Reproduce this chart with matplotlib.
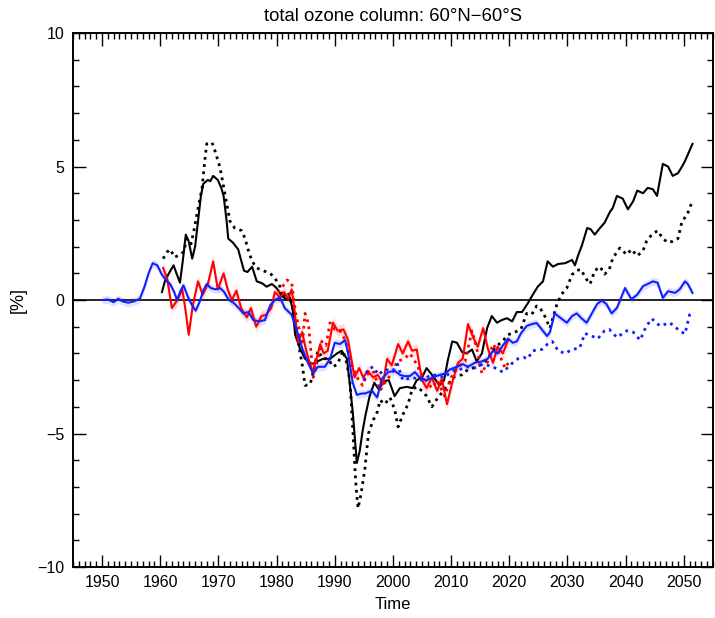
import numpy as np
import matplotlib
matplotlib.use("Agg")
import matplotlib.pyplot as plt
from matplotlib.ticker import MultipleLocator

plt.rcParams['font.family'] = ['Liberation Sans', 'DejaVu Sans']

# ---- series: (year, anomaly %) ----
black_solid_years = [1960.3, 1960.8, 1961.5, 1962.3, 1962.8, 1963.4, 1963.9, 1964.4, 1964.9, 1965.5,
                     1966.0, 1966.5, 1967.0, 1967.4, 1968.2, 1968.6, 1969.1, 1969.9, 1970.5, 1970.9,
                     1971.4, 1971.7, 1972.5, 1973.4, 1973.9, 1974.4, 1975.0, 1975.8, 1976.6, 1977.5,
                     1978.3, 1979.2, 1980.0, 1980.9, 1981.6, 1982.3, 1982.8, 1983.2, 1984.0, 1984.9,
                     1986.1, 1987.0, 1988.0, 1989.2, 1990.4, 1991.2, 1992.1, 1992.6, 1993.1, 1993.8,
                     1994.3, 1994.8, 1995.3, 1996.0, 1996.8, 1997.6, 1998.4, 1999.3, 2000.3, 2001.2,
                     2002.4, 2003.4, 2004.1, 2005.0, 2005.8, 2006.9, 2008.0, 2008.8, 2009.4, 2010.2,
                     2011.0, 2011.9, 2012.7, 2013.6, 2014.4, 2015.3, 2016.2, 2017.0, 2017.9, 2018.7,
                     2019.6, 2020.5, 2021.3, 2022.2, 2023.2, 2024.1, 2024.9, 2025.8, 2026.6, 2027.5,
                     2028.4, 2029.6, 2030.8, 2031.3, 2031.8, 2032.5, 2033.4, 2034.0, 2034.7, 2035.6,
                     2036.4, 2037.3, 2037.8, 2038.5, 2039.5, 2040.4, 2041.3, 2042.0, 2043.0, 2043.8,
                     2044.7, 2045.4, 2046.4, 2047.3, 2048.1, 2049.0, 2049.7, 2050.2, 2050.7, 2051.5]
black_solid_vals = [0.3, 0.7, 1.0, 1.3, 1.0, 0.65, 1.5, 2.45, 2.2, 1.55,
                    2.0, 2.95, 3.9, 4.35, 4.5, 4.45, 4.65, 4.5, 4.2, 3.9,
                    3.0, 2.3, 2.15, 1.9, 1.5, 1.1, 1.05, 1.25, 0.7, 0.63,
                    0.5, 0.6, 0.45, 0.15, 0.05, 0.1, -0.4, -1.3, -1.8, -2.2,
                    -2.4, -2.3, -2.2, -2.2, -2.0, -1.9, -2.2, -3.15, -4.2, -6.1,
                    -5.65, -4.9, -4.3, -3.6, -3.1, -3.35, -3.05, -3.0, -3.6, -3.3,
                    -3.25, -3.3, -3.0, -2.9, -2.55, -2.85, -3.2, -3.0, -2.3, -1.55,
                    -1.6, -1.95, -2.0, -1.85, -2.3, -2.0, -1.05, -0.6, -0.85, -0.75,
                    -0.68, -0.8, -0.45, -0.45, -0.12, 0.22, 0.5, 0.7, 1.45, 1.25,
                    1.35, 1.38, 1.5, 1.3, 1.65, 2.05, 2.7, 2.65, 2.45, 2.7,
                    2.9, 3.3, 3.45, 3.9, 3.8, 3.4, 3.7, 4.1, 4.0, 4.2,
                    4.15, 3.9, 5.1, 5.0, 4.65, 4.75, 5.0, 5.2, 5.45, 5.85]

black_dot_years = [1960.5, 1961.2, 1961.7, 1962.5, 1963.3, 1964.0, 1964.6, 1965.3, 1965.8, 1966.3,
                   1967.2, 1967.7, 1968.0, 1968.9, 1969.4, 1970.3, 1971.1, 1972.0, 1972.8, 1974.0,
                   1974.6, 1975.1, 1975.8, 1976.6, 1977.7, 1978.9, 1979.7, 1980.6, 1981.0, 1981.5,
                   1982.0, 1982.8, 1983.7, 1984.4, 1984.9, 1985.8, 1986.3, 1987.1, 1988.0, 1988.9,
                   1989.7, 1990.5, 1991.4, 1992.0, 1992.6, 1993.1, 1993.6, 1994.0, 1994.5, 1995.2,
                   1995.8, 1996.6, 1997.3, 1997.8, 1998.6, 1999.5, 2000.3, 2000.9, 2001.7, 2002.6,
                   2003.3, 2004.1, 2005.0, 2005.8, 2006.7, 2007.6, 2008.5, 2009.5, 2010.7, 2011.9,
                   2012.9, 2014.4, 2015.3, 2016.3, 2017.2, 2018.0, 2019.0, 2019.8, 2021.0, 2022.0,
                   2023.0, 2023.9, 2024.7, 2025.3, 2026.1, 2027.0, 2027.5, 2028.2, 2029.0, 2029.9,
                   2030.8, 2031.5, 2032.3, 2033.2, 2033.9, 2034.7, 2035.6, 2036.4, 2037.2, 2037.8,
                   2039.0, 2040.2, 2041.0, 2042.0, 2043.0, 2043.6, 2044.5, 2045.5, 2046.4, 2047.3,
                   2048.1, 2049.0, 2049.7, 2050.6, 2051.0, 2051.5]
black_dot_vals = [1.55, 1.8, 1.9, 1.6, 1.7, 1.8, 2.3, 2.1, 2.6, 3.2,
                  4.2, 5.3, 5.85, 5.9, 5.6, 4.95, 4.0, 2.95, 2.7, 2.6,
                  2.3, 1.9, 1.45, 1.2, 1.1, 1.0, 0.83, 0.5, 0.1, 0.2,
                  0.3, -0.3, -1.55, -2.4, -3.2, -3.15, -2.7, -1.9, -2.2, -2.2,
                  -2.5, -2.4, -1.9, -2.3, -3.0, -4.8, -6.8, -7.8, -7.3, -6.3,
                  -5.0, -4.5, -4.2, -3.75, -3.9, -3.65, -4.1, -4.75, -4.3, -3.9,
                  -3.35, -3.25, -3.4, -3.6, -4.0, -3.7, -3.45, -3.15, -2.85, -2.8,
                  -2.6, -2.5, -2.4, -2.2, -1.9, -1.7, -1.5, -1.3, -1.2, -1.1,
                  -0.5, -0.53, -0.22, -0.3, -0.6, -1.05, -0.67, -0.15, 0.22, 0.45,
                  0.95, 1.1, 1.15, 0.8, 0.6, 1.1, 1.25, 0.97, 1.15, 1.57,
                  1.95, 1.7, 1.9, 1.65, 1.85, 2.2, 2.45, 2.6, 2.3, 2.15,
                  2.2, 2.3, 2.95, 3.2, 3.45, 3.7]

red_solid_years = [1960.5, 1961.2, 1962.0, 1962.9, 1963.8, 1964.3, 1964.9, 1965.6, 1966.5, 1967.3,
                   1968.2, 1969.1, 1969.9, 1970.9, 1971.6, 1972.3, 1973.1, 1973.9, 1974.9, 1975.6,
                   1976.5, 1977.4, 1978.2, 1979.1, 1979.7, 1980.6, 1981.3, 1982.0, 1982.6, 1983.1,
                   1983.7, 1984.4, 1985.0, 1985.6, 1986.2, 1987.0, 1987.5, 1988.1, 1988.8, 1989.7,
                   1990.5, 1991.5, 1992.3, 1993.4, 1994.2, 1994.9, 1995.7, 1996.6, 1997.4, 1998.3,
                   1999.0, 1999.8, 2000.9, 2001.7, 2002.6, 2003.3, 2004.1, 2005.0, 2005.8, 2006.7,
                   2007.6, 2008.4, 2009.3, 2010.3, 2011.2, 2012.0, 2012.9, 2013.8, 2014.6, 2015.5,
                   2016.3, 2017.2, 2018.0, 2018.9, 2019.8]
red_solid_vals = [1.2, 0.8, -0.3, -0.02, 0.4, -0.3, -1.3, -0.2, 0.7, 0.2,
                  0.6, 1.45, 0.4, 1.0, 0.4, 0.0, 0.35, -0.3, -0.65, -0.3,
                  -1.0, -0.6, -0.55, -0.3, 0.3, 0.1, 0.3, 0.05, 0.4, -0.4,
                  -1.6, -1.2, -1.8, -2.3, -2.7, -2.1, -1.65, -2.0, -1.9, -0.85,
                  -1.15, -1.1, -1.5, -2.9, -2.55, -2.9, -2.65, -2.9, -2.8, -3.15,
                  -2.2, -2.45, -1.65, -2.0, -1.55, -1.9, -1.85, -3.0, -3.3, -2.9,
                  -3.4, -2.95, -3.9, -3.0, -2.35, -2.2, -0.9, -1.4, -1.75, -1.05,
                  -1.8, -2.35, -1.75, -2.0, -1.5]

red_dot_years = [1980.2, 1981.0, 1981.8, 1982.6, 1983.3, 1983.9, 1984.4, 1984.9, 1985.5, 1986.3,
                 1987.0, 1987.8, 1988.5, 1989.2, 1990.0, 1990.9, 1991.8, 1992.4, 1993.1, 1994.0,
                 1994.8, 1995.5, 1996.6, 1997.8, 1998.9, 2000.0, 2000.7, 2002.0, 2002.9, 2003.8,
                 2004.6, 2005.6, 2006.7, 2007.6, 2008.9, 2010.0, 2011.2, 2012.4, 2013.6, 2014.4,
                 2015.3, 2016.3, 2017.2, 2018.0, 2019.3, 2020.0]
red_dot_vals = [0.3, 0.5, 0.75, 0.65, -0.5, -1.1, -1.7, -0.5, -0.9, -2.9,
                -2.3, -1.55, -1.7, -0.85, -1.1, -1.15, -1.5, -2.0, -2.55, -2.95,
                -3.2, -2.8, -2.65, -3.4, -3.0, -2.7, -2.3, -2.2, -2.0, -2.3,
                -2.65, -3.0, -3.3, -3.0, -3.6, -2.9, -2.5, -2.3, -1.15, -1.8,
                -2.75, -2.3, -1.65, -1.9, -2.55, -2.3]

blue_solid_years = [1950.0, 1951.0, 1952.0, 1952.8, 1953.5, 1954.5, 1955.5, 1956.5, 1957.3, 1958.0,
                    1958.7, 1959.5, 1960.3, 1961.0, 1961.7, 1962.4, 1962.9, 1963.5, 1964.0, 1964.8,
                    1965.5, 1966.1, 1966.8, 1967.5, 1968.0, 1968.7, 1969.5, 1970.3, 1971.0, 1971.8,
                    1972.6, 1973.5, 1974.3, 1975.2, 1976.0, 1977.0, 1978.0, 1978.9, 1979.7, 1980.6,
                    1981.4, 1982.6, 1983.5, 1984.4, 1985.4, 1986.3, 1987.1, 1988.3, 1989.2, 1990.0,
                    1990.9, 1991.8, 1992.3, 1993.1, 1993.8, 1994.7, 1995.2, 1996.4, 1997.3, 1998.1,
                    1999.2, 2000.3, 2001.2, 2002.0, 2002.9, 2003.8, 2004.6, 2005.8, 2006.9, 2008.1,
                    2009.0, 2009.8, 2011.0, 2012.0, 2012.9, 2014.1, 2015.3, 2016.3, 2017.2, 2018.0,
                    2018.9, 2019.8, 2020.6, 2021.3, 2022.0, 2023.0, 2023.9, 2024.7, 2025.6, 2026.5,
                    2027.0, 2027.8, 2029.0, 2029.9, 2030.8, 2031.6, 2032.5, 2033.3, 2034.2, 2035.1,
                    2035.9, 2036.7, 2037.6, 2038.5, 2039.9, 2041.0, 2042.0, 2043.0, 2043.8, 2044.7,
                    2045.5, 2046.4, 2047.3, 2048.5, 2049.3, 2050.2, 2050.7, 2051.5]
blue_solid_vals = [0.0, 0.02, -0.08, 0.05, -0.05, -0.1, -0.05, 0.05, 0.5, 1.0,
                   1.38, 1.3, 0.95, 0.75, 0.6, 0.3, 0.0, 0.35, 0.55, 0.1,
                   -0.2, -0.4, -0.05, 0.4, 0.6, 0.45, 0.4, 0.45, 0.3, 0.0,
                   -0.1, -0.3, -0.5, -0.45, -0.75, -0.8, -0.75, -0.2, 0.0, 0.1,
                   -0.3, -0.55, -1.15, -1.8, -2.35, -2.75, -2.5, -2.5, -2.2, -1.6,
                   -1.65, -1.5, -2.0, -3.1, -3.55, -3.5, -3.5, -3.4, -3.65, -2.95,
                   -2.7, -2.65, -2.8, -2.85, -2.85, -2.7, -2.9, -3.0, -2.9, -2.8,
                   -2.75, -2.6, -2.5, -2.4, -2.5, -2.35, -2.3, -2.2, -1.9, -2.0,
                   -1.7, -1.45, -1.6, -1.55, -1.25, -0.97, -0.9, -0.86, -1.1, -1.35,
                   -1.2, -0.5, -0.7, -0.85, -0.6, -0.5, -0.7, -0.85, -0.5, -0.15,
                   -0.02, -0.15, -0.5, -0.3, 0.45, 0.03, 0.2, 0.52, 0.6, 0.7,
                   0.65, 0.08, 0.33, 0.27, 0.4, 0.7, 0.6, 0.27]

blue_dot_years = [1995.0, 1995.7, 1996.6, 1997.5, 1998.6, 2000.0, 2000.8, 2001.7, 2003.3, 2005.0,
                  2006.2, 2007.5, 2008.8, 2010.3, 2011.5, 2012.7, 2014.0, 2015.5, 2017.2, 2018.9,
                  2020.6, 2021.5, 2022.5, 2023.2, 2024.0, 2025.6, 2026.6, 2027.4, 2028.4, 2029.6,
                  2030.8, 2032.1, 2033.0, 2034.2, 2035.2, 2036.4, 2037.2, 2038.5, 2040.2, 2041.3,
                  2042.5, 2043.5, 2044.5, 2045.9, 2047.6, 2049.3, 2050.2, 2051.0, 2051.5]
blue_dot_vals = [-3.0, -2.6, -2.5, -2.8, -2.6, -2.65, -2.4, -3.0, -2.9, -3.0,
                 -2.85, -2.8, -2.9, -2.65, -2.6, -2.5, -2.55, -2.4, -2.5, -2.7,
                 -2.35, -2.2, -2.15, -2.2, -1.9, -1.85, -1.65, -1.55, -1.9, -2.0,
                 -1.85, -1.8, -1.25, -1.35, -1.45, -1.15, -1.1, -1.4, -1.15, -1.2,
                 -1.5, -1.0, -0.7, -0.97, -0.85, -1.15, -1.27, -0.55, -0.5]

# half-width of the ensemble spread bands
red_spread = 0.22
blue_spread = 0.15

x_ticks = [1950, 1960, 1970, 1980, 1990, 2000, 2010, 2020, 2030, 2040, 2050]
y_ticks = [-10, -5, 0, 5, 10]

fig = plt.figure(figsize=(7.15, 6.18), dpi=100)
ax = fig.add_axes([0.102, 0.0825, 0.895, 0.864])

dot = (0, (1, 1.6))

ax.axhline(0, color='black', lw=1.2, zorder=1)

ax.plot(black_solid_years, black_solid_vals, color='black', lw=1.5, zorder=3)
ax.plot(black_dot_years, black_dot_vals, color='black', lw=2.0, ls=dot, zorder=3)

rs_y = np.array(red_solid_years)
rs_v = np.array(red_solid_vals)
ax.fill_between(rs_y, rs_v - red_spread, rs_v + red_spread, color='#ff0000', alpha=0.13, lw=0, zorder=2)
ax.plot(red_dot_years, red_dot_vals, color='#ff0000', lw=2.0, ls=dot, zorder=4)
ax.plot(rs_y, rs_v, color='#ff0000', lw=1.5, zorder=4)

bs_y = np.array(blue_solid_years)
bs_v = np.array(blue_solid_vals)
ax.fill_between(bs_y, bs_v - blue_spread, bs_v + blue_spread, color='#3040ff', alpha=0.15, lw=0, zorder=2)
ax.plot(blue_dot_years, blue_dot_vals, color='#1020ff', lw=2.0, ls=dot, zorder=5)
ax.plot(bs_y, bs_v, color='#1020ff', lw=1.5, zorder=5)

ax.set_xlim(1945, 2055)
ax.set_ylim(-10, 10)
ax.set_xticks(x_ticks)
ax.set_yticks(y_ticks)
ax.xaxis.set_minor_locator(MultipleLocator(1))
ax.yaxis.set_minor_locator(MultipleLocator(1))
ax.set_yticklabels(['\u221210', '\u22125', '0', '5', '10'])
ax.tick_params(which='both', direction='in', top=True, right=True, width=1.0,
               labelsize=11.5, pad=6)
ax.tick_params(which='major', length=9)
ax.tick_params(which='minor', length=4.5)
for s in ax.spines.values():
    s.set_linewidth(1.4)

ax.set_title('total ozone column: 60\u00b0N\u221260\u00b0S', fontsize=13.3, pad=9)
ax.set_xlabel('Time', fontsize=12, labelpad=5)
fig.text(18 / 715, 1 - 300 / 618, '[%]', rotation=90, fontsize=13,
         ha='center', va='center')

fig.savefig('out.png', dpi=100)
